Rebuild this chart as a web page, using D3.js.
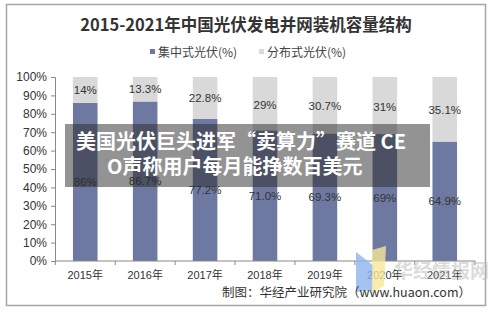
<!doctype html>
<html>
<head>
    <meta charset="utf-8">
    <title>2015-2021年中国光伏发电并网装机容量结构</title>
    <script src="https://cdn.jsdelivr.net/npm/d3@7"></script>
    <style type="text/css">
        html, body { margin: 0; padding: 0; background: #fff; }
        svg { display: block; font-family: "Liberation Sans", Arial, "Noto Sans CJK SC", sans-serif; }
    </style>
</head>
<body>
<svg id="chart" width="497" height="312"></svg>
<script type="text/javascript">
    var years = ["2015年", "2016年", "2017年", "2018年", "2019年", "2020年", "2021年"];
    var centralized = [86, 86.7, 77.2, 71.0, 69.3, 69, 64.9];
    var distributed = [14, 13.3, 22.8, 29, 30.7, 31, 35.1];
    var centralizedLabels = ["86%", "86.7%", "77.2%", "71.0%", "69.3%", "69%", "64.9%"];
    var distributedLabels = ["14%", "13.3%", "22.8%", "29%", "30.7%", "31%", "35.1%"];
    var yTicks = [0, 10, 20, 30, 40, 50, 60, 70, 80, 90, 100];
    var seriesNames = ["集中式光伏(%)", "分布式光伏(%)"];
    var colors = ["#6e79a1", "#d9d9d9"];

    var svg = d3.select("#chart");

    // outer frame
    svg.append("rect").attr("x", 6.5).attr("y", 4.5).attr("width", 479).attr("height", 301)
        .attr("fill", "#fff").attr("stroke", "#a6a6a6").attr("stroke-width", 1.5);

    svg.append("text").attr("x", 246).attr("y", 31).attr("text-anchor", "middle")
        .attr("font-family", "'Noto Sans CJK SC', sans-serif").attr("font-weight", "bold")
        .attr("font-size", 16.5).attr("fill", "#333")
        .text("2015-2021年中国光伏发电并网装机容量结构");

    // legend
    var legendX = [150, 259];
    seriesNames.forEach(function(name, i) {
        svg.append("rect").attr("x", legendX[i]).attr("y", 49).attr("width", 5).attr("height", 5).attr("fill", colors[i]);
        svg.append("text").attr("x", legendX[i] + 8).attr("y", 57)
            .attr("font-family", "'Noto Sans CJK SC', sans-serif")
            .attr("font-size", 12).attr("fill", "#444").text(name);
    });

    var x = d3.scaleBand().domain(years).range([55, 475]).paddingInner(0.59).paddingOuter(0.3);
    var y = d3.scaleLinear().domain([0, 100]).range([261, 77]);

    var yAxis = svg.append("g").attr("transform", "translate(55,0)")
        .call(d3.axisLeft(y).tickValues(yTicks).tickFormat(function(d) { return d + "%"; }).tickSize(4).tickPadding(4));
    yAxis.selectAll("text").attr("font-size", 12).attr("fill", "#333");
    yAxis.selectAll("line").attr("stroke", "#888");
    yAxis.select(".domain").attr("stroke", "#888");

    // bars
    var g = svg.append("g");
    g.selectAll(".c").data(years).enter().append("rect")
        .attr("x", function(d) { return x(d); })
        .attr("width", x.bandwidth())
        .attr("y", function(d, i) { return y(centralized[i]); })
        .attr("height", function(d, i) { return y(0) - y(centralized[i]); })
        .attr("fill", colors[0]);
    g.selectAll(".d").data(years).enter().append("rect")
        .attr("x", function(d) { return x(d); })
        .attr("width", x.bandwidth())
        .attr("y", function(d, i) { return y(centralized[i] + distributed[i]); })
        .attr("height", function(d, i) { return y(centralized[i]) - y(centralized[i] + distributed[i]); })
        .attr("fill", colors[1]);

    g.selectAll(".lc").data(years).enter().append("text")
        .attr("x", function(d) { return x(d) + x.bandwidth() / 2; })
        .attr("y", function(d, i) { return (y(0) + y(centralized[i])) / 2 + 4; })
        .attr("text-anchor", "middle").attr("font-size", 11.5).attr("fill", "#333")
        .text(function(d, i) { return centralizedLabels[i]; });
    g.selectAll(".ld").data(years).enter().append("text")
        .attr("x", function(d) { return x(d) + x.bandwidth() / 2; })
        .attr("y", function(d, i) { return (y(centralized[i]) + y(100)) / 2 + 4 + (distributed[i] > 25 ? 1 : 0); })
        .attr("text-anchor", "middle").attr("font-size", 11.5).attr("fill", "#333")
        .text(function(d, i) { return distributedLabels[i]; });

    // x axis with ticks at band edges
    var xAxis = svg.append("g").attr("transform", "translate(0,261)");
    xAxis.append("line").attr("x1", 55).attr("x2", 475).attr("stroke", "#888");
    var edges = years.map(function(d) { return x(d) - x.step() * x.paddingInner() / 2; }).concat([475]);
    xAxis.selectAll(".tk").data(edges).enter().append("line")
        .attr("x1", function(d) { return d; }).attr("x2", function(d) { return d; })
        .attr("y1", 0).attr("y2", 4).attr("stroke", "#888");
    xAxis.selectAll(".lb").data(years).enter().append("text")
        .attr("x", function(d) { return x(d) + x.bandwidth() / 2; }).attr("y", 18)
        .attr("text-anchor", "middle").attr("font-size", 11).attr("fill", "#333")
        .text(function(d) { return d; });

    // watermark
    svg.append("path").attr("d", "M356,252 L374,266 L372,290 L356,292 Z").attr("fill", "#8fb4ec").attr("opacity", 0.8);
    svg.append("path").attr("d", "M372,250 L386,246 L384,286 L372,292 Z").attr("fill", "#f6e79a").attr("opacity", 0.8);
    svg.append("text").attr("x", 394).attr("y", 278).attr("font-family", "'Noto Sans CJK SC', sans-serif")
        .attr("font-weight", "bold").attr("font-size", 19).attr("fill", "#bbb").attr("opacity", 0.5).text("华经情报网");

    svg.append("text").attr("x", 471).attr("y", 297).attr("text-anchor", "end")
        .attr("font-family", "'Noto Sans CJK SC', sans-serif")
        .attr("font-size", 12.5).attr("fill", "#333").text("制图：华经产业研究院（www.huaon.com）");

    // headline overlay
    svg.append("rect").attr("x", 65).attr("y", 124).attr("width", 365).attr("height", 63)
        .attr("fill", "rgba(40,40,40,0.5)");
    var head = ["美国光伏巨头进军“卖算力”赛道 CE", "O声称用户每月能挣数百美元"];
    var headX = [76, 107], headY = [149, 174];
    head.forEach(function(t, i) {
        svg.append("text").attr("x", headX[i]).attr("y", headY[i])
            .attr("font-family", "'Noto Sans CJK SC', sans-serif").attr("font-weight", "bold")
            .attr("font-size", 20).attr("fill", "#fff").text(t);
    });
</script>
</body>
</html>
